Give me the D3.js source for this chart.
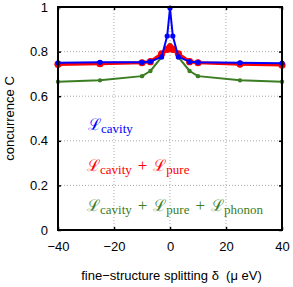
<!DOCTYPE html>
<html><head><meta charset="utf-8">
<script src="https://cdn.jsdelivr.net/npm/d3@7"></script>
<style>body{margin:0;background:#fff}</style>
</head><body>
<script>
const deltas = [-40,-25,-10,-7,-3,-1,0,1,3,7,10,25,40];
const cavity = [0.750,0.752,0.752,0.755,0.776,0.87,0.995,0.87,0.776,0.755,0.752,0.750,0.748];
const cavityPure = [0.743,0.746,0.750,0.755,0.790,0.81,0.820,0.81,0.790,0.755,0.750,0.744,0.740];
const cavityPurePhonon = [0.665,0.671,0.690,0.713,0.775,0.815,0.830,0.815,0.775,0.713,0.690,0.671,0.665];
const xTicks = [-40,-20,0,20,40];
const yTicks = [0,0.2,0.4,0.6,0.8,1];
const xTickLabels = ["\u221240","\u221220","0","20","40"];
const yTickLabels = ["0","0.2","0.4","0.6","0.8","1"];

const W=293,H=287;
const m={l:58,r:11,t:7,b:57};
const svg=d3.select("body").append("svg").attr("width",W).attr("height",H);
const x=d3.scaleLinear().domain([-40,40]).range([m.l,W-m.r]);
const y=d3.scaleLinear().domain([0,1]).range([H-m.b,m.t]);
const font="'Liberation Sans', Arial, sans-serif";

// grid
const g=svg.append("g");
g.selectAll(".gx").data(xTicks.slice(1,-1)).enter().append("line")
 .attr("x1",d=>x(d)).attr("x2",d=>x(d)).attr("y1",y(0)).attr("y2",y(1))
 .attr("stroke","#aaa").attr("stroke-width",1).attr("stroke-dasharray","1,2");
g.selectAll(".gy").data(yTicks.slice(1,-1)).enter().append("line")
 .attr("y1",d=>y(d)).attr("y2",d=>y(d)).attr("x1",x(-40)).attr("x2",x(40))
 .attr("stroke","#aaa").attr("stroke-width",1).attr("stroke-dasharray","1,2");

// axes
const xa=d3.axisBottom(x).tickValues(xTicks).tickSizeInner(-3).tickSizeOuter(0).tickPadding(12).tickFormat((d,i)=>xTickLabels[i]);
const ya=d3.axisLeft(y).tickValues(yTicks).tickSizeInner(-3).tickSizeOuter(0).tickPadding(10).tickFormat((d,i)=>yTickLabels[i]);
const xg=svg.append("g").attr("transform",`translate(0,${y(0)})`).call(xa);
const yg=svg.append("g").attr("transform",`translate(${x(-40)},0)`).call(ya);
const xt=svg.append("g").attr("transform",`translate(0,${y(1)})`).call(d3.axisTop(x).tickValues(xTicks).tickSizeInner(-3).tickSizeOuter(0).tickFormat(""));
const yr=svg.append("g").attr("transform",`translate(${x(40)},0)`).call(d3.axisRight(y).tickValues(yTicks).tickSizeInner(-3).tickSizeOuter(0).tickFormat(""));
[xg,yg,xt,yr].forEach(a=>{a.select(".domain").remove();a.selectAll("line").attr("stroke","#000").attr("stroke-width",1.5);});
[xg,yg].forEach(a=>a.selectAll("text").attr("font-family",font).attr("font-size",13).attr("fill","#000"));

// series
const series=[
 {v:cavityPurePhonon,c:"#3b7d23",w:2,r:2.2},
 {v:cavityPure,c:"#ff0000",w:3.2,r:3.6},
 {v:cavity,c:"#0000ff",w:2,r:2.6}
];
const line=d3.line().x(d=>x(d[0])).y(d=>y(d[1]));
series.forEach(s=>{
 const pts=deltas.map((d,i)=>[d,s.v[i]]);
 svg.append("path").datum(pts).attr("d",line).attr("fill","none").attr("stroke",s.c).attr("stroke-width",s.w).attr("stroke-linejoin","round");
 svg.selectAll(null).data(pts).enter().append("circle").attr("cx",d=>x(d[0])).attr("cy",d=>y(d[1])).attr("r",s.r).attr("fill",s.c);
});

// box
svg.append("rect").attr("x",x(-40)).attr("y",y(1)).attr("width",x(40)-x(-40)).attr("height",y(0)-y(1))
 .attr("fill","none").attr("stroke","#000").attr("stroke-width",2);

// legends
const serif="'DejaVu Serif', 'Liberation Serif', serif";
const serif2="'Liberation Serif', 'DejaVu Serif', serif";
function legend(parts,xx,yy,col){
 const t=svg.append("text").attr("x",xx).attr("y",yy).attr("fill",col).attr("font-family",serif2);
 parts.forEach((p,i)=>{
  if(p==="+"){t.append("tspan").attr("font-size",17).attr("dx",6).attr("dy",-3).text("+");}
  else{
   t.append("tspan").attr("font-family",serif).attr("font-size",16).attr("dx",i?6:0).text("\u2112");
   t.append("tspan").attr("font-size",13).attr("dy",3).text(p);
  }
 });
}
legend(["cavity"],88,130,"#0000ff");
legend(["cavity","+","pure"],87,171,"#ff0000");
legend(["cavity","+","pure","+","phonon"],87,211,"#3b7d23");

// axis labels
svg.append("text").attr("x",171.5).attr("y",280).attr("text-anchor","middle").attr("font-family",font).attr("font-size",13)
 .style("white-space","pre").text("fine\u2212structure splitting \u03b4  (\u03bc eV)");
svg.append("text").attr("transform",`translate(14,${(y(0)+y(1))/2}) rotate(-90)`).attr("text-anchor","middle").attr("font-family",font).attr("font-size",13).text("concurrence C");
</script>
</body></html>
